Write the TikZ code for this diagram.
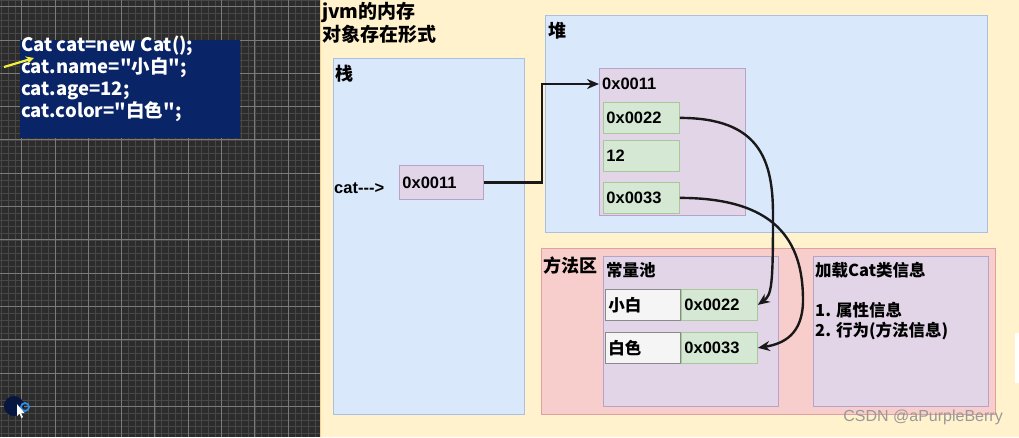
\documentclass[tikz,border=0pt]{standalone}
\usepackage{fontspec}
\setmainfont{Liberation Sans}
\newfontfamily\cjk{Noto Sans CJK SC}
\usetikzlibrary{arrows.meta, positioning}

\definecolor{gridbg}{HTML}{2C2C2C}
\definecolor{gridminor}{HTML}{474747}
\definecolor{gridmajor}{HTML}{7A7A7A}
\definecolor{cream}{HTML}{FFF2CC}
\definecolor{codebg}{HTML}{0A2468}
\definecolor{bluefill}{HTML}{DAE8FC}
\definecolor{bluedraw}{HTML}{A9C0E0}
\definecolor{purplefill}{HTML}{E1D5E7}
\definecolor{purpledraw}{HTML}{B8A2C8}
\definecolor{greenfill}{HTML}{D5E8D4}
\definecolor{greendraw}{HTML}{A8C79A}
\definecolor{redfill}{HTML}{F8CECC}
\definecolor{reddraw}{HTML}{E0A0A0}
\definecolor{grayfill}{HTML}{F5F5F5}
\definecolor{graydraw}{HTML}{8A8A8A}
\definecolor{pointer}{HTML}{F2F03C}
\definecolor{ringblue}{HTML}{2E8BE6}

\tikzset{
  area/.style={draw=#1draw, fill=#1fill, line width=0.8pt, anchor=north west, inner sep=0pt},
  cell/.style={area=#1, text=black, font=\fontsize{16.5}{18}\selectfont\bfseries, align=left,
    minimum width=76pt, minimum height=31pt, text width=70pt, inner xsep=3pt},
  title/.style={anchor=north west, inner sep=0pt, font=\cjk\fontsize{18}{22}\selectfont\bfseries},
  plain/.style={inner sep=0pt, font=\fontsize{16.5}{18}\selectfont\bfseries},
  link/.style={line width=2.4pt, draw=black!90, -{Stealth[length=12pt,width=10pt]}},
}

\begin{document}
\begin{tikzpicture}[x=1pt, y=-1pt]
\useasboundingbox (0,0) rectangle (1019,437);

% left: editor with grid
\fill[gridbg] (0,0) rectangle (320,437);
\foreach \k in {0,...,47}
  \draw[gridminor, line width=0.7pt] ({1.67+\k*6.667},0) -- ++(0,437);
\foreach \k in {0,...,65}
  \draw[gridminor, line width=0.7pt] (0,{\k*6.667}) -- ++(320,0);
\foreach \k in {0,...,8}
  \draw[gridmajor, line width=1pt] ({21.67+\k*33.33},0) -- ++(0,437);
\foreach \k in {0,...,12}
  \draw[gridmajor, line width=1pt] (0,{6.67+\k*33.33}) -- ++(320,0);

% code
\node[fill=codebg, anchor=north west, minimum width=220pt, minimum height=98pt, inner sep=0pt] (codebox) at (20,40) {};
\node[anchor=north west, inner sep=0pt, text=white, align=left,
  font=\cjk\fontsize{18.5}{22}\selectfont\bfseries] (code) at (21,36)
  {Cat cat=new Cat();\\cat.name="小白";\\cat.age=12;\\cat.color="白色";};
\coordinate (ptrtail) at (4,67);
\coordinate (ptrhead) at (34,58);
\draw[pointer, line width=2.2pt, -{Stealth[length=8pt,width=8pt]}] (ptrtail) -- (ptrhead);

% cursor
\fill[codebg!60!black] (14,406) circle (10);
\draw[ringblue, line width=1.8pt] (25,407) circle (4);
\fill[white] (17,404) -- (17,416) -- (19.5,413.5) -- (21.5,418) -- (23,417.2) -- (21,413) -- (24.5,413) -- cycle;

% right: jvm memory
\fill[cream] (320,0) rectangle (1019,437);
\draw[cream!70!orange, line width=1pt] (320.5,0) -- (320.5,437);
\fill[white] (1015,333) rectangle (1030,383);

\node[title, align=left, font=\cjk\fontsize{19}{23}\selectfont\bfseries] (jvmtitle) at (322,2) {jvm的内存\\对象存在形式};

% stack
\node[area=blue, minimum width=191pt, minimum height=356pt] (stack) at (333,58) {};
\node[title] (stacktitle) at (335,65) {栈};
\node[plain, anchor=west] (catref) at (334,188) {cat-{}-{}->};
\node[cell=purple, minimum width=84pt, minimum height=34pt, text width=78pt] (stk11) at (399,165) {0x0011};

% heap
\node[area=blue, minimum width=442pt, minimum height=217pt] (heap) at (545,15) {};
\node[title] (heaptitle) at (548,22) {堆};
\node[area=purple, minimum width=146pt, minimum height=147pt] (hobj) at (599,68) {};
\node[plain, anchor=west] (hobjtitle) at (602,84) {0x0011};
\node[cell=green] (h22) at (603,102) {0x0022};
\node[cell=green] (h12) at (603,140) {12};
\node[cell=green] (h33) at (603,182) {0x0033};

% method area
\node[area=red, minimum width=454pt, minimum height=166pt] (method) at (541,248) {};
\node[title] (methodtitle) at (543,257) {方法区};
\node[area=purple, minimum width=175pt, minimum height=150pt] (pool) at (603,256) {};
\node[title, font=\cjk\fontsize{16.5}{20}\selectfont\bfseries] (pooltitle) at (606,262) {常量池};
\node[cell=gray, minimum width=75pt, text width=69pt, font=\cjk\fontsize{16.5}{18}\selectfont\bfseries] (s1) at (605,289) {小白};
\node[cell=green] (p22) at (681,289) {0x0022};
\node[cell=gray, minimum width=75pt, text width=69pt, font=\cjk\fontsize{16.5}{18}\selectfont\bfseries] (s2) at (605,332) {白色};
\node[cell=green] (p33) at (681,332) {0x0033};
\node[area=purple, minimum width=175pt, minimum height=150pt] (classinfo) at (813,256) {};
\node[title, align=left, font=\cjk\fontsize{16.5}{20}\selectfont\bfseries] (classtext) at (815,262)
  {加载Cat类信息\\ \\1. 属性信息\\2. 行为(方法信息)};

% links
\coordinate (bend1) at (773,215);
\coordinate (bend2) at (803,300);
\draw[link] (stk11.east) -- ++(58,0) |- ([yshift=-16pt]hobj.north west);
\draw[link] (h22.east) .. controls +(80,0) and +(0,-55) .. (bend1)
  .. controls +(0,70) and +(14,-10) .. (p22.east);
\draw[link] (h33.east) .. controls +(95,0) and +(0,-60) .. (bend2)
  .. controls +(0,35) and +(25,-4) .. (p33.east);

\node[anchor=east, inner sep=0pt, text=gray!80, font=\fontsize{16}{18}\selectfont] (mark) at (1003,417) {CSDN @aPurpleBerry};
\end{tikzpicture}
\end{document}
